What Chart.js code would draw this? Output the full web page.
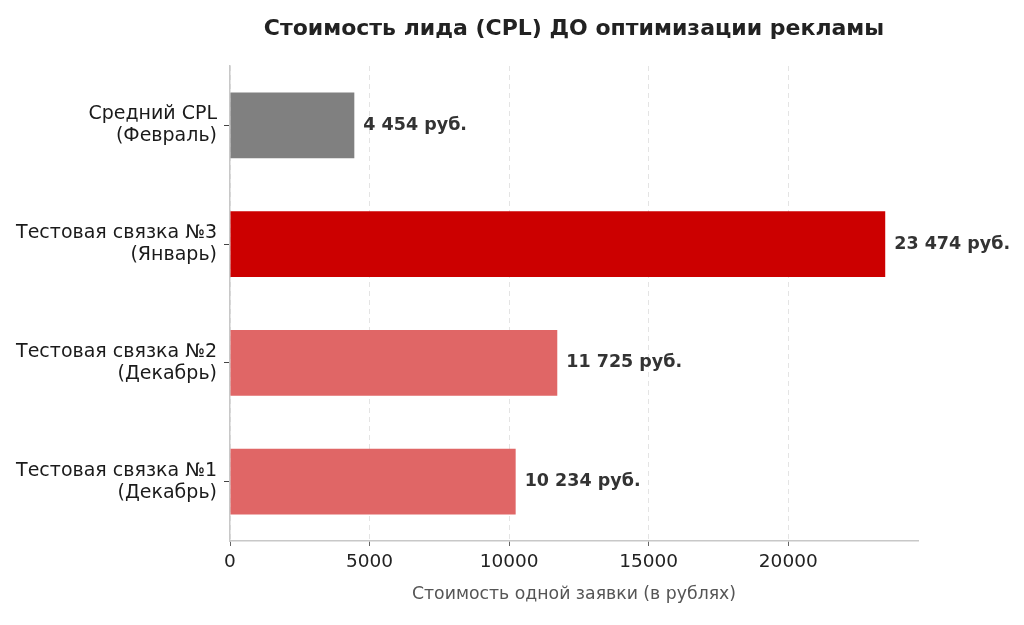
<!DOCTYPE html>
<html>
	<head>
		<meta charset="utf-8">
		<script src="https://cdn.jsdelivr.net/npm/chart.js"></script>
		<style>
			html, body {
				margin: 0;
				padding: 0;
				background: #fff;
			}
			#wrap {
				width: 1024px;
				height: 625px;
			}
		</style>
	</head>
	<body>
		<div id="wrap"><canvas id="cplChart"></canvas></div>

		<script>
			const chartTitle = 'Стоимость лида (CPL) ДО оптимизации рекламы';
			const axisTitle = 'Стоимость одной заявки (в рублях)';
			const categories = [
				['Средний CPL', '(Февраль)'],
				['Тестовая связка №3', '(Январь)'],
				['Тестовая связка №2', '(Декабрь)'],
				['Тестовая связка №1', '(Декабрь)']
			];
			const cplValues = [4454, 23474, 11725, 10234];
			const barColors = ['#808080', '#cc0000', '#e06666', '#e06666'];
			const xTicks = [0, 5000, 10000, 15000, 20000];
			const xMax = 24648;

			const FONT = "'DejaVu Sans', sans-serif";

			function rub(v) {
				return String(v).replace(/\B(?=(\d{3})+(?!\d))/g, ' ') + ' руб.';
			}

			// title over the plot area + value labels at the bar ends
			const labelsPlugin = {
				id: 'labels',
				afterDatasetsDraw(chart) {
					const ctx = chart.ctx;
					const area = chart.chartArea;
					ctx.save();
					ctx.fillStyle = '#222';
					ctx.font = 'bold 22px ' + FONT;
					ctx.textAlign = 'center';
					ctx.textBaseline = 'middle';
					ctx.fillText(chartTitle, (area.left + area.right) / 2, 29);

					ctx.fillStyle = '#333';
					ctx.font = 'bold 17.5px ' + FONT;
					ctx.textAlign = 'left';
					chart.getDatasetMeta(0).data.forEach((bar, i) => {
						ctx.fillText(rub(cplValues[i]), bar.x + 9, bar.y);
					});
					ctx.restore();
				}
			};

			const ctx = document.getElementById('cplChart').getContext('2d');
			const chart = new Chart(ctx, {
				type: 'bar',
				data: {
					labels: categories,
					datasets: [{
						data: cplValues,
						backgroundColor: barColors,
						barPercentage: 0.555,
						categoryPercentage: 1.0
					}]
				},
				options: {
					indexAxis: 'y',
					responsive: true,
					maintainAspectRatio: false,
					animation: false,
					layout: {
						padding: { left: 0, right: 106, top: 66, bottom: 0 }
					},
					plugins: {
						legend: { display: false },
						tooltip: { enabled: false }
					},
					scales: {
						x: {
							min: 0,
							max: xMax,
							afterFit: s => { s.height = 84; },
							afterBuildTicks: s => { s.ticks = xTicks.map(v => ({ value: v })); },
							ticks: {
								color: '#222',
								padding: 5,
								callback: v => String(v),
								font: { family: FONT, size: 18.5 }
							},
							grid: {
								color: '#e4e4e4',
								tickColor: '#666',
								tickLength: 5,
								lineWidth: 1
							},
							border: { color: '#c8c8c8', width: 1.5, dash: [5, 4] },
							title: {
								display: true,
								text: axisTitle,
								color: '#555',
								font: { family: FONT, size: 17.3 },
								padding: { top: 0, bottom: 20 }
							}
						},
						y: {
							afterFit: s => { s.width = 230; },
							ticks: {
								color: '#1a1a1a',
								padding: 7,
								font: { family: FONT, size: 19, lineHeight: 1.16 }
							},
							grid: {
								offset: false,
								drawOnChartArea: false,
								tickColor: '#444',
								tickLength: 6
							},
							border: { color: '#c8c8c8', width: 1.5 }
						}
					}
				},
				plugins: [labelsPlugin]
			});
		</script>
	</body>
</html>
